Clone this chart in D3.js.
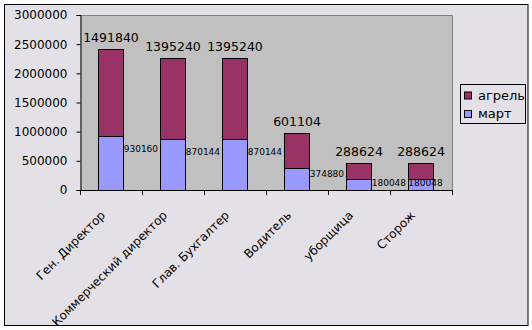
<!DOCTYPE html>
<html>
<head>
<meta charset="utf-8">
<script src="https://cdn.jsdelivr.net/npm/d3@7"></script>
<style>
  body { margin: 0; background: #fff; }
  text { font-family: "DejaVu Sans", sans-serif; fill: #000; }
</style>
</head>
<body>
<script>
// categories and series values
var categories = ["Ген. Директор", "Коммерческий директор", "Глав. Бухгалтер", "Водитель", "уборщица", "Сторож"];
var mart = [930160, 870144, 870144, 374880, 180048, 180048];
var april = [1491840, 1395240, 1395240, 601104, 288624, 288624];
var seriesNames = ["март", "агрель"];
var yTicks = [0, 500000, 1000000, 1500000, 2000000, 2500000, 3000000];

var W = 532, H = 330;
var plot = {left: 80, right: 452, top: 15, bottom: 190};

var svg = d3.select("body").append("svg")
    .attr("width", W)
    .attr("height", H);

// outer frame
svg.append("rect")
    .attr("x", 4.5).attr("y", 4.5)
    .attr("width", 523.5).attr("height", 321)
    .attr("fill", "#E4E0E7")
    .attr("stroke", "#000").attr("stroke-width", 1);

var x = d3.scaleBand()
    .domain(categories)
    .range([plot.left, plot.right])
    .paddingInner(0.59)
    .paddingOuter(0.295);

var y = d3.scaleLinear()
    .domain([0, 3000000])
    .range([plot.bottom, plot.top]);

// plot area
svg.append("rect")
    .attr("x", plot.left).attr("y", plot.top)
    .attr("width", plot.right - plot.left)
    .attr("height", plot.bottom - plot.top)
    .attr("fill", "#C0C0C0");
svg.append("path")
    .attr("d", "M" + plot.left + "," + (plot.top + 0.5) + "H" + (plot.right + 0.5) + "V" + plot.bottom)
    .attr("fill", "none").attr("stroke", "#808080");

// stacked data
var rows = categories.map(function(c, i) { return {cat: c, mart: mart[i], april: april[i]}; });
var stack = d3.stack().keys(["mart", "april"])(rows);
var colors = {mart: "#9999FF", april: "#993366"};

var layer = svg.append("g").selectAll("g")
    .data(stack)
  .enter().append("g")
    .attr("fill", function(d) { return colors[d.key]; });

layer.selectAll("rect")
    .data(function(d) { return d; })
  .enter().append("rect")
    .attr("x", function(d) { return Math.round(x(d.data.cat)) + 0.5; })
    .attr("y", function(d) { return Math.round(y(d[1])) + 0.5; })
    .attr("width", Math.round(x.bandwidth()))
    .attr("height", function(d) { return Math.round(y(d[0])) - Math.round(y(d[1])); })
    .attr("stroke", "#000")
    .attr("stroke-width", 1);

// y axis
var yAxis = svg.append("g")
    .attr("transform", "translate(" + (plot.left + 0.5) + ",0)")
    .call(d3.axisLeft(y).tickValues(yTicks).tickSize(4).tickPadding(9).tickFormat(d3.format("d")));
yAxis.select(".domain").attr("stroke", "#000");
yAxis.selectAll("text").style("font-size", "12px").attr("fill", "#000");

// x axis: line plus ticks at category boundaries
var step = x.step();
svg.append("line")
    .attr("x1", plot.left).attr("x2", plot.right + 1)
    .attr("y1", plot.bottom + 0.5).attr("y2", plot.bottom + 0.5)
    .attr("stroke", "#000");
svg.append("g").selectAll("line")
    .data(d3.range(categories.length + 1))
  .enter().append("line")
    .attr("x1", function(i) { return Math.round(plot.left + i * step) + 0.5; })
    .attr("x2", function(i) { return Math.round(plot.left + i * step) + 0.5; })
    .attr("y1", plot.bottom).attr("y2", plot.bottom + 5)
    .attr("stroke", "#000");

// category labels
svg.append("g").selectAll("text")
    .data(categories)
  .enter().append("text")
    .attr("transform", function(d) {
      return "translate(" + (x(d) + x.bandwidth() / 2 - 5) + "," + 216 + ") rotate(-45)";
    })
    .attr("text-anchor", "end")
    .style("font-size", "12px")
    .text(function(d) { return d; });

// april labels above bars
svg.append("g").selectAll("text")
    .data(rows)
  .enter().append("text")
    .attr("x", function(d) { return x(d.cat) + x.bandwidth() / 2; })
    .attr("y", function(d) { return y(d.mart + d.april) - 7; })
    .attr("text-anchor", "middle")
    .style("font-size", "12.5px")
    .text(function(d) { return d.april; });

// march labels beside bars
svg.append("g").selectAll("text")
    .data(rows)
  .enter().append("text")
    .attr("x", function(d, i) {
      return i === rows.length - 1 ? x(d.cat) : x(d.cat) + x.bandwidth();
    })
    .attr("y", function(d) {
      var h = y(0) - y(d.mart);
      return y(d.mart) + 1 + 0.22 * h;
    })
    .attr("dy", "0.35em")
    .style("font-size", "9px")
    .text(function(d) { return d.mart; });

// legend
var legend = svg.append("g").attr("transform", "translate(460.5,84.5)");
legend.append("rect")
    .attr("width", 65).attr("height", 39)
    .attr("fill", "none").attr("stroke", "#000");
var legItems = [{name: seriesNames[1], key: "april"}, {name: seriesNames[0], key: "mart"}];
var li = legend.selectAll(".li")
    .data(legItems)
  .enter().append("g")
    .attr("transform", function(d, i) { return "translate(4," + (7.5 + i * 18.5) + ")"; });
li.append("rect")
    .attr("width", 7).attr("height", 7)
    .attr("fill", function(d) { return colors[d.key]; })
    .attr("stroke", "#000");
li.append("text")
    .attr("x", 13.5).attr("y", 7.5)
    .style("font-size", "13px")
    .text(function(d) { return d.name; });
</script>
</body>
</html>
